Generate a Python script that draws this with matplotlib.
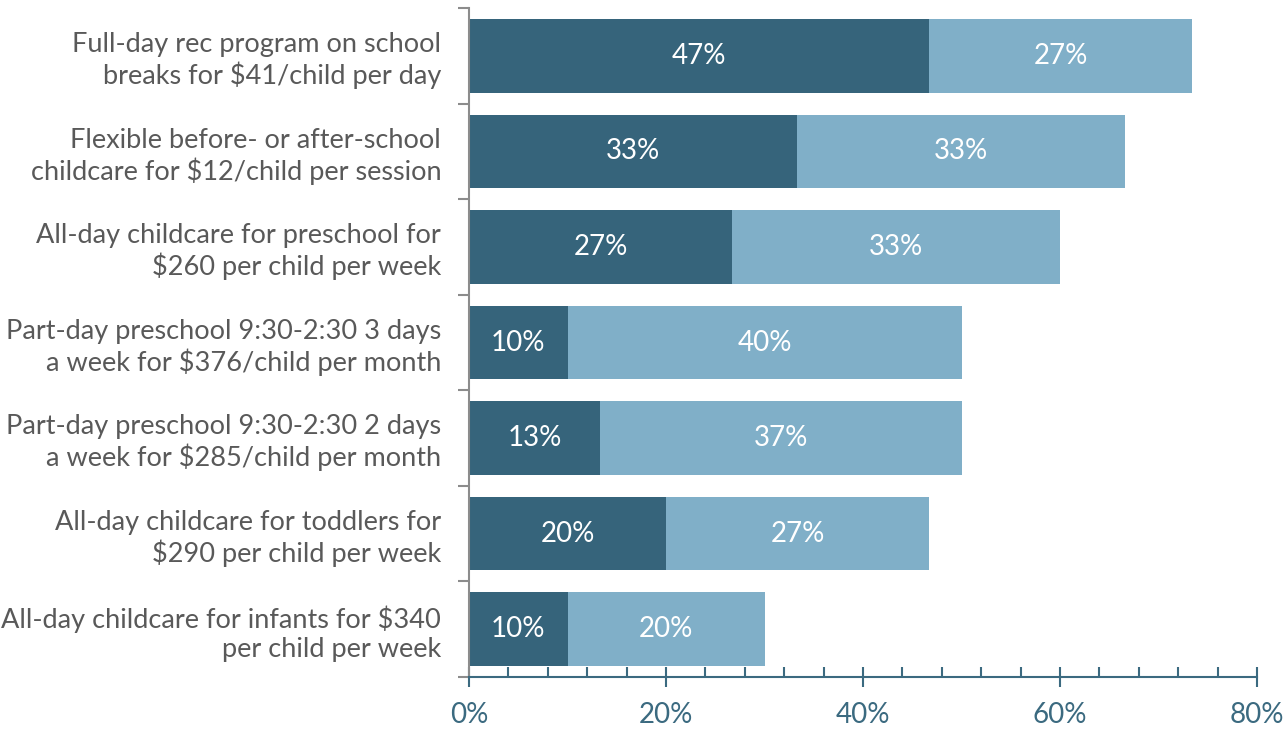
import numpy as np
import matplotlib.pyplot as plt
from matplotlib.ticker import MultipleLocator, PercentFormatter

kategori = [
    "Full-day rec program on school\nbreaks for $41/child per day",
    "Flexible before- or after-school\nchildcare for $12/child per session",
    "All-day childcare for preschool for\n$260 per child per week",
    "Part-day preschool 9:30-2:30 3 days\na week for $376/child per month",
    "Part-day preschool 9:30-2:30 2 days\na week for $285/child per month",
    "All-day childcare for toddlers for\n$290 per child per week",
    "All-day childcare for infants for $340\nper child per week",
]
seri_gelap = [46.7, 33.3, 26.7, 10.0, 13.3, 20.0, 10.0]
seri_terang = [26.7, 33.3, 33.3, 40.0, 36.7, 26.7, 20.0]

warna_gelap = "#36647b"
warna_terang = "#80afc8"
warna_sumbu = "#3b6a80"

plt.rcParams['font.family'] = ['Lato', 'DejaVu Sans']

fig = plt.figure(figsize=(12.88, 7.31), dpi=100)
ax = fig.add_axes([469/1288, 1-677/731, (1257-469)/1288, (677-8)/731])

y = np.arange(len(kategori))
b1 = ax.barh(y, seri_gelap, height=0.77, color=warna_gelap)
b2 = ax.barh(y, seri_terang, left=seri_gelap, height=0.77, color=warna_terang)

for bars, vals, kiri in [(b1, seri_gelap, [0]*7), (b2, seri_terang, seri_gelap)]:
    for i, v in enumerate(vals):
        ax.text(kiri[i] + v/2, y[i], "{:.0f}%".format(v), ha='center', va='center',
                color='white', fontsize=20)

ax.set_xlim(0, 80)
ax.set_ylim(6.5, -0.5)

# sumbu y: tick di batas kategori
ax.set_yticks(np.arange(-0.5, 7, 1))
ax.set_yticklabels([])
ax.set_yticks(y, minor=True)
ax.set_yticklabels(kategori, minor=True, fontsize=19.5, color='#595959', linespacing=1.2)
ax.tick_params(axis='y', which='minor', length=0, pad=20)
ax.tick_params(axis='y', which='major', length=8, width=1.5, color='#8c8c8c')

ax.xaxis.set_major_locator(MultipleLocator(20))
ax.xaxis.set_minor_locator(MultipleLocator(4))
ax.xaxis.set_major_formatter(PercentFormatter(decimals=0))
ax.tick_params(axis='x', which='major', direction='inout', length=14, width=1.5,
               color=warna_sumbu, labelcolor=warna_sumbu, labelsize=20, pad=11)
ax.tick_params(axis='x', which='minor', direction='in', length=7, width=1.5,
               color=warna_sumbu)

for s in ['top', 'right']:
    ax.spines[s].set_visible(False)
ax.spines['left'].set_color('#8c8c8c')
ax.spines['left'].set_linewidth(1.5)
ax.spines['bottom'].set_color(warna_sumbu)
ax.spines['bottom'].set_linewidth(1.5)

plt.savefig('out.png', dpi=100)
